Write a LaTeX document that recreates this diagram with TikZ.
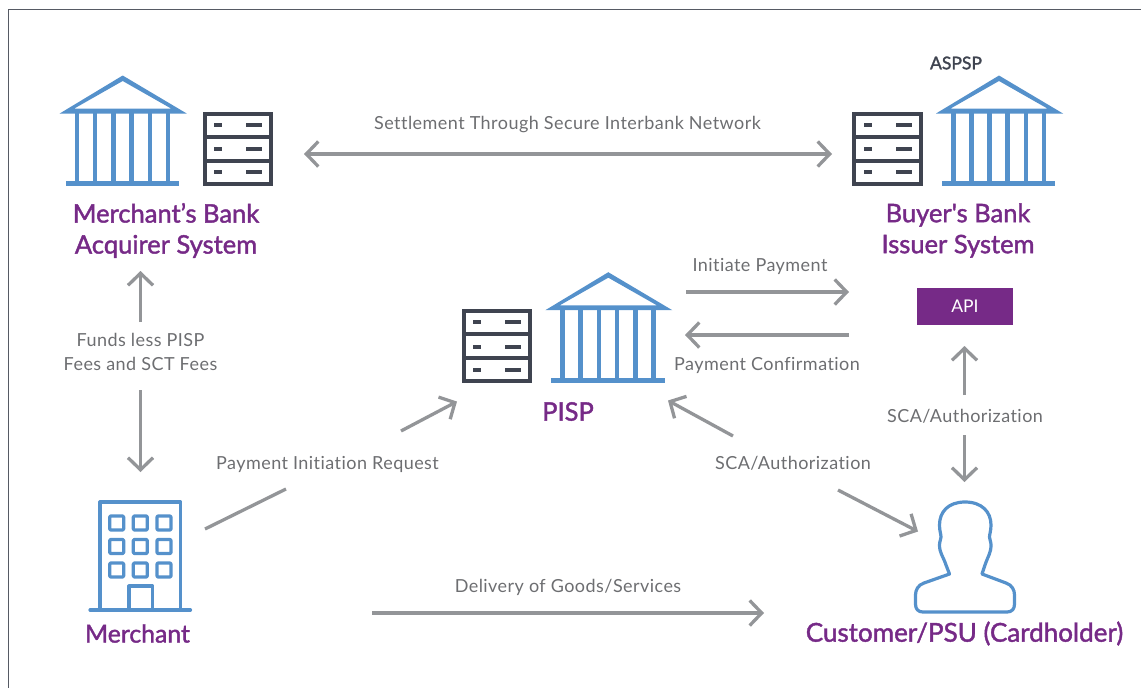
\documentclass[tikz,border=0pt]{standalone}
\usepackage{fontspec}
\usetikzlibrary{arrows.meta}
\setmainfont{Lato}
\newfontfamily\lblfont[LetterSpace=2.5,Ligatures=NoCommon]{Lato}
\newfontfamily\titlefont[FakeBold=1.6,Ligatures=NoCommon]{Lato}
\definecolor{iconblue}{HTML}{5591CB}
\definecolor{icondark}{HTML}{3F4450}
\definecolor{brandpurple}{HTML}{762A87}
\definecolor{arrowgray}{HTML}{939598}
\definecolor{labelgray}{HTML}{6D6E71}
\definecolor{framegray}{HTML}{565A64}
\tikzset{
  x=1pt,y=-1pt,
  flow/.style={draw=arrowgray,line width=3.3pt,-{Straight Barb[length=12pt,width=25pt,line width=3.3pt]}},
  flowboth/.style={draw=arrowgray,line width=3.3pt,{Straight Barb[length=12pt,width=25pt,line width=3.3pt]}-{Straight Barb[length=12pt,width=25pt,line width=3.3pt]}},
  flowplain/.style={draw=arrowgray,line width=3.3pt},
  lbl/.style={text=labelgray,font=\fontsize{18}{23.5}\selectfont\lblfont,align=center,inner sep=0pt},
  title/.style={text=brandpurple,font=\fontsize{25.5}{31}\selectfont\titlefont,align=center,inner sep=0pt},
  bankicon/.pic={
    \fill[iconblue,even odd rule] (-63,37.5)--(0,-0.5)--(64,37.5)--cycle (-48.7,32.7)--(48.7,32.7)--(0,5)--cycle;
    \foreach \cx in {-45.7,-27.7,-9.4,8.6,27,45}{\fill[iconblue] (\cx-2.2,37)rectangle(\cx+2.2,106);}
    \fill[iconblue] (-57,105.3) rectangle (56.3,110);
  },
  servericon/.pic={
    \draw[icondark,line width=4pt] (2,2) rectangle (68.7,72);
    \draw[icondark,line width=4pt] (2,25) -- (68.7,25) (2,49) -- (68.7,49);
    \foreach \ry in {13,37.3,60.3}{
      \fill[icondark] (11.4,\ry-1.9) rectangle (19.4,\ry+1.9);
      \fill[icondark] (43.4,\ry-1.9) rectangle (59.4,\ry+1.9);
    }
  },
}
\begin{document}
\begin{tikzpicture}
\useasboundingbox (0,0) rectangle (1141,688);
\draw[framegray,line width=1.5pt] (8.5,688) -- (8.5,9.5) -- (1141,9.5);

% icons
\pic at (122.7,76) {bankicon};
\pic at (202.7,111.7) {servericon};
\pic at (999,76) {bankicon};
\pic at (852.3,111.7) {servericon};
\pic at (608.3,272.7) {bankicon};
\pic at (461.7,309.3) {servericon};

% merchant building
\begin{scope}[iconblue,line width=3.2pt,line cap=round,line join=round]
\draw (100,610) -- (100,502) -- (180.5,502) -- (180.5,610);
\draw (90,610) -- (190.5,610);
\draw (129,610) -- (129,586) -- (152.5,586) -- (152.5,610);
\foreach \wx in {116.7,140.3,164}{\foreach \wy in {523,546.5,570}{
  \draw[rounded corners=1pt] (\wx-7,\wy-7) rectangle (\wx+7,\wy+7);
}}
% customer
\draw (965,502) .. controls (948,502) and (939.5,512) .. (939.5,525)
  .. controls (939.5,531) and (941,534) .. (941,537)
  .. controls (941,540) and (939.5,541) .. (939.5,545)
  .. controls (939.5,553) and (943,556) .. (946,565)
  -- (949.5,574) -- (924,583)
  .. controls (918,585) and (915.5,590) .. (915.5,595)
  -- (915.5,604) .. controls (915.5,609) and (918,612) .. (923,612)
  -- (1007,612) .. controls (1012,612) and (1014.5,609) .. (1014.5,604)
  -- (1014.5,595) .. controls (1014.5,590) and (1012,585) .. (1006,583)
  -- (982,574) -- (985,565)
  .. controls (988,556) and (991,553) .. (991,545)
  .. controls (991,541) and (989.5,540) .. (989.5,537)
  .. controls (989.5,534) and (991,531) .. (991,525)
  .. controls (991,512) and (982,502) .. (965,502) -- cycle;
\end{scope}

% titles
\node[title] (mbank) at (166,230.5) {Merchant’s Bank\\Acquirer System};
\node[title] (bbank) at (958,230.5) {Buyer's Bank\\Issuer System};
\node[title] (pisp) at (568,411.5) {PISP};
\node[title,font=\fontsize{24.8}{31}\selectfont\titlefont] (merchant) at (137.5,633.5) {Merchant};
\node[title,font=\fontsize{26}{31}\selectfont\titlefont] (customer) at (964.5,633.5) {Customer/PSU (Cardholder)};
\node[text=icondark,font=\fontsize{17.5}{20}\selectfont\titlefont,inner sep=0pt] (aspsp) at (956,63) {ASPSP};
\node[fill=brandpurple,text=white,font=\fontsize{17.5}{20}\selectfont,minimum width=96pt,minimum height=37pt,inner sep=0pt] (api) at (965,306.5) {API};

% labels
\node[lbl] (settle) at (567.5,125) {Settlement Through Secure Interbank Network};
\node[lbl] (init) at (760,266.5) {Initiate Payment};
\node[lbl] (conf) at (767,365.5) {Payment Confirmation};
\node[lbl] (scaright) at (965,416) {SCA/Authorization};
\node[lbl] (scaleft) at (793,463) {SCA/Authorization};
\node[lbl] (pir) at (327.5,464) {Payment Initiation Request};
\node[lbl] (deliv) at (568,587) {Delivery of Goods/Services};
\node[lbl] (funds) at (140.5,352) {Funds less PISP\\Fees and SCT Fees};

% connector ends
\coordinate (settleA) at (304,154);
\coordinate (settleB) at (832,154);
\coordinate (initA) at (686,292);
\coordinate (initB) at (849,292);
\coordinate (confA) at (849,335);
\coordinate (confB) at (685,335);
\coordinate (fundsUpA) at (140.5,322);
\coordinate (fundsUpB) at (140.5,271);
\coordinate (fundsDnA) at (140.5,390);
\coordinate (fundsDnB) at (140.5,472);
\coordinate (scaUpA) at (964.5,395);
\coordinate (scaUpB) at (964.5,346);
\coordinate (scaDnA) at (964.5,435);
\coordinate (scaDnB) at (964.5,482);
\coordinate (scaLA) at (733,436);
\coordinate (scaLB) at (668,400.5);
\coordinate (scaRA) at (838,490);
\coordinate (scaRB) at (918,531.5);
\coordinate (pirA) at (205,529);
\coordinate (pirB) at (286,489);
\coordinate (pirC) at (401,431);
\coordinate (pirD) at (457,401.5);
\coordinate (delivA) at (372,613);
\coordinate (delivB) at (764,613);

\draw[flowboth] (settleA) -- (settleB);
\draw[flow] (initA) -- (initB);
\draw[flow] (confA) -- (confB);
\draw[flow] (fundsUpA) -- (fundsUpB);
\draw[flow] (fundsDnA) -- (fundsDnB);
\draw[flow] (scaUpA) -- (scaUpB);
\draw[flow] (scaDnA) -- (scaDnB);
\draw[flow] (scaLA) -- (scaLB);
\draw[flow] (scaRA) -- (scaRB);
\draw[flowplain] (pirA) -- (pirB);
\draw[flow] (pirC) -- (pirD);
\draw[flow] (delivA) -- (delivB);
\end{tikzpicture}
\end{document}
